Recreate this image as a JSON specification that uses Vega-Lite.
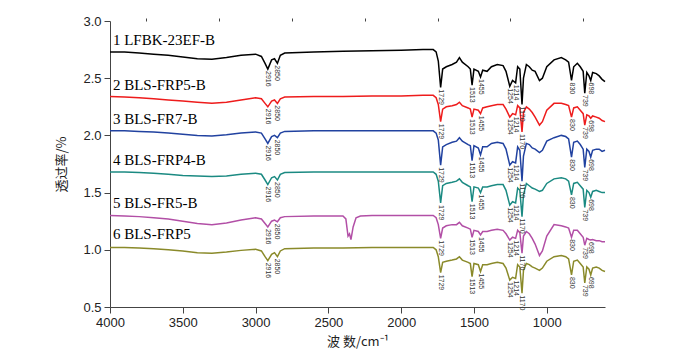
{
"$schema":"https://vega.github.io/schema/vega-lite/v6.json",
"width":495,"height":286,
"autosize":{"type":"none"},
"padding":{"left":110,"top":21,"right":68,"bottom":51},
"config":{"view":{"stroke":null},"axis":{"domainColor":"#444","tickColor":"#444","labelColor":"#222","labelFont":"Liberation Sans","labelFontSize":13,"titleFont":"Noto Sans CJK SC","titleFontSize":13,"titleFontWeight":"normal","titleColor":"#222","grid":false,"labelOverlap":false}},
"resolve":{"axis":{"x":"independent"}},
"datasets":{
"spectra":[
{"s":"1","x":4000,"y":2.73},{"s":"1","x":3900,"y":2.73},{"s":"1","x":3800,"y":2.72},{"s":"1","x":3700,"y":2.71},{"s":"1","x":3600,"y":2.70},{"s":"1","x":3500,"y":2.685},{"s":"1","x":3400,"y":2.67},{"s":"1","x":3300,"y":2.665},{"s":"1","x":3200,"y":2.68},{"s":"1","x":3100,"y":2.70},{"s":"1","x":3000,"y":2.71},{"s":"1","x":2960,"y":2.69},{"s":"1","x":2935,"y":2.63},{"s":"1","x":2916,"y":2.58},{"s":"1","x":2890,"y":2.66},{"s":"1","x":2870,"y":2.67},{"s":"1","x":2850,"y":2.63},{"s":"1","x":2830,"y":2.70},{"s":"1","x":2800,"y":2.72},{"s":"1","x":2600,"y":2.73},{"s":"1","x":2400,"y":2.735},{"s":"1","x":2200,"y":2.74},{"s":"1","x":2000,"y":2.745},{"s":"1","x":1850,"y":2.75},{"s":"1","x":1780,"y":2.75},{"s":"1","x":1760,"y":2.73},{"s":"1","x":1745,"y":2.65},{"s":"1","x":1729,"y":2.42},{"s":"1","x":1715,"y":2.58},{"s":"1","x":1690,"y":2.60},{"s":"1","x":1650,"y":2.62},{"s":"1","x":1620,"y":2.64},{"s":"1","x":1600,"y":2.68},{"s":"1","x":1580,"y":2.64},{"s":"1","x":1540,"y":2.60},{"s":"1","x":1525,"y":2.58},{"s":"1","x":1513,"y":2.44},{"s":"1","x":1500,"y":2.58},{"s":"1","x":1470,"y":2.56},{"s":"1","x":1455,"y":2.51},{"s":"1","x":1440,"y":2.57},{"s":"1","x":1410,"y":2.56},{"s":"1","x":1380,"y":2.60},{"s":"1","x":1340,"y":2.62},{"s":"1","x":1300,"y":2.61},{"s":"1","x":1280,"y":2.56},{"s":"1","x":1254,"y":2.43},{"s":"1","x":1235,"y":2.48},{"s":"1","x":1214,"y":2.46},{"s":"1","x":1200,"y":2.60},{"s":"1","x":1185,"y":2.58},{"s":"1","x":1170,"y":2.27},{"s":"1","x":1160,"y":2.50},{"s":"1","x":1140,"y":2.62},{"s":"1","x":1120,"y":2.60},{"s":"1","x":1100,"y":2.57},{"s":"1","x":1080,"y":2.56},{"s":"1","x":1050,"y":2.48},{"s":"1","x":1030,"y":2.50},{"s":"1","x":1000,"y":2.60},{"s":"1","x":950,"y":2.66},{"s":"1","x":900,"y":2.68},{"s":"1","x":870,"y":2.66},{"s":"1","x":850,"y":2.64},{"s":"1","x":830,"y":2.48},{"s":"1","x":815,"y":2.60},{"s":"1","x":790,"y":2.63},{"s":"1","x":770,"y":2.60},{"s":"1","x":750,"y":2.56},{"s":"1","x":739,"y":2.37},{"s":"1","x":725,"y":2.55},{"s":"1","x":710,"y":2.52},{"s":"1","x":698,"y":2.48},{"s":"1","x":685,"y":2.55},{"s":"1","x":660,"y":2.54},{"s":"1","x":640,"y":2.52},{"s":"1","x":620,"y":2.49},{"s":"1","x":600,"y":2.47},
{"s":"2","x":4000,"y":2.34},{"s":"2","x":3900,"y":2.335},{"s":"2","x":3800,"y":2.33},{"s":"2","x":3700,"y":2.32},{"s":"2","x":3600,"y":2.31},{"s":"2","x":3500,"y":2.30},{"s":"2","x":3400,"y":2.29},{"s":"2","x":3300,"y":2.28},{"s":"2","x":3200,"y":2.29},{"s":"2","x":3100,"y":2.31},{"s":"2","x":3000,"y":2.33},{"s":"2","x":2960,"y":2.32},{"s":"2","x":2935,"y":2.28},{"s":"2","x":2916,"y":2.25},{"s":"2","x":2890,"y":2.30},{"s":"2","x":2870,"y":2.31},{"s":"2","x":2850,"y":2.28},{"s":"2","x":2830,"y":2.32},{"s":"2","x":2800,"y":2.335},{"s":"2","x":2600,"y":2.34},{"s":"2","x":2400,"y":2.34},{"s":"2","x":2200,"y":2.345},{"s":"2","x":2000,"y":2.345},{"s":"2","x":1850,"y":2.35},{"s":"2","x":1780,"y":2.35},{"s":"2","x":1760,"y":2.33},{"s":"2","x":1745,"y":2.27},{"s":"2","x":1729,"y":2.12},{"s":"2","x":1715,"y":2.23},{"s":"2","x":1690,"y":2.25},{"s":"2","x":1650,"y":2.26},{"s":"2","x":1620,"y":2.27},{"s":"2","x":1600,"y":2.29},{"s":"2","x":1580,"y":2.26},{"s":"2","x":1540,"y":2.24},{"s":"2","x":1525,"y":2.23},{"s":"2","x":1513,"y":2.16},{"s":"2","x":1500,"y":2.23},{"s":"2","x":1470,"y":2.22},{"s":"2","x":1455,"y":2.19},{"s":"2","x":1440,"y":2.24},{"s":"2","x":1410,"y":2.25},{"s":"2","x":1380,"y":2.26},{"s":"2","x":1340,"y":2.27},{"s":"2","x":1300,"y":2.27},{"s":"2","x":1280,"y":2.23},{"s":"2","x":1254,"y":2.16},{"s":"2","x":1235,"y":2.19},{"s":"2","x":1214,"y":2.18},{"s":"2","x":1200,"y":2.26},{"s":"2","x":1185,"y":2.24},{"s":"2","x":1170,"y":2.03},{"s":"2","x":1160,"y":2.20},{"s":"2","x":1140,"y":2.25},{"s":"2","x":1120,"y":2.23},{"s":"2","x":1100,"y":2.20},{"s":"2","x":1080,"y":2.16},{"s":"2","x":1050,"y":2.09},{"s":"2","x":1030,"y":2.12},{"s":"2","x":1000,"y":2.22},{"s":"2","x":950,"y":2.28},{"s":"2","x":900,"y":2.28},{"s":"2","x":870,"y":2.27},{"s":"2","x":850,"y":2.26},{"s":"2","x":830,"y":2.16},{"s":"2","x":815,"y":2.24},{"s":"2","x":790,"y":2.25},{"s":"2","x":770,"y":2.22},{"s":"2","x":750,"y":2.19},{"s":"2","x":739,"y":2.09},{"s":"2","x":725,"y":2.18},{"s":"2","x":710,"y":2.17},{"s":"2","x":698,"y":2.15},{"s":"2","x":685,"y":2.17},{"s":"2","x":660,"y":2.16},{"s":"2","x":640,"y":2.15},{"s":"2","x":620,"y":2.13},{"s":"2","x":600,"y":2.12},
{"s":"3","x":4000,"y":2.04},{"s":"3","x":3900,"y":2.04},{"s":"3","x":3800,"y":2.035},{"s":"3","x":3700,"y":2.03},{"s":"3","x":3600,"y":2.02},{"s":"3","x":3500,"y":2.01},{"s":"3","x":3400,"y":2.00},{"s":"3","x":3300,"y":1.995},{"s":"3","x":3200,"y":2.005},{"s":"3","x":3100,"y":2.02},{"s":"3","x":3000,"y":2.03},{"s":"3","x":2960,"y":2.02},{"s":"3","x":2935,"y":1.97},{"s":"3","x":2916,"y":1.93},{"s":"3","x":2890,"y":1.99},{"s":"3","x":2870,"y":2.00},{"s":"3","x":2850,"y":1.98},{"s":"3","x":2830,"y":2.02},{"s":"3","x":2800,"y":2.035},{"s":"3","x":2600,"y":2.04},{"s":"3","x":2400,"y":2.04},{"s":"3","x":2200,"y":2.04},{"s":"3","x":2000,"y":2.04},{"s":"3","x":1850,"y":2.04},{"s":"3","x":1780,"y":2.04},{"s":"3","x":1760,"y":2.02},{"s":"3","x":1745,"y":1.96},{"s":"3","x":1729,"y":1.74},{"s":"3","x":1715,"y":1.90},{"s":"3","x":1690,"y":1.92},{"s":"3","x":1650,"y":1.94},{"s":"3","x":1620,"y":1.95},{"s":"3","x":1600,"y":1.98},{"s":"3","x":1580,"y":1.95},{"s":"3","x":1540,"y":1.92},{"s":"3","x":1525,"y":1.91},{"s":"3","x":1513,"y":1.78},{"s":"3","x":1500,"y":1.91},{"s":"3","x":1470,"y":1.89},{"s":"3","x":1455,"y":1.83},{"s":"3","x":1440,"y":1.90},{"s":"3","x":1410,"y":1.90},{"s":"3","x":1380,"y":1.93},{"s":"3","x":1340,"y":1.94},{"s":"3","x":1300,"y":1.93},{"s":"3","x":1280,"y":1.88},{"s":"3","x":1254,"y":1.74},{"s":"3","x":1235,"y":1.77},{"s":"3","x":1214,"y":1.76},{"s":"3","x":1200,"y":1.90},{"s":"3","x":1185,"y":1.87},{"s":"3","x":1170,"y":1.60},{"s":"3","x":1160,"y":1.82},{"s":"3","x":1140,"y":1.93},{"s":"3","x":1120,"y":1.92},{"s":"3","x":1100,"y":1.89},{"s":"3","x":1080,"y":1.88},{"s":"3","x":1050,"y":1.85},{"s":"3","x":1030,"y":1.87},{"s":"3","x":1000,"y":1.95},{"s":"3","x":950,"y":1.98},{"s":"3","x":900,"y":2.00},{"s":"3","x":870,"y":1.99},{"s":"3","x":850,"y":1.97},{"s":"3","x":830,"y":1.81},{"s":"3","x":815,"y":1.94},{"s":"3","x":790,"y":1.95},{"s":"3","x":770,"y":1.92},{"s":"3","x":750,"y":1.88},{"s":"3","x":739,"y":1.72},{"s":"3","x":725,"y":1.88},{"s":"3","x":710,"y":1.86},{"s":"3","x":698,"y":1.81},{"s":"3","x":685,"y":1.87},{"s":"3","x":660,"y":1.88},{"s":"3","x":640,"y":1.88},{"s":"3","x":620,"y":1.86},{"s":"3","x":600,"y":1.87},
{"s":"4","x":4000,"y":1.68},{"s":"4","x":3900,"y":1.68},{"s":"4","x":3800,"y":1.675},{"s":"4","x":3700,"y":1.67},{"s":"4","x":3600,"y":1.66},{"s":"4","x":3500,"y":1.65},{"s":"4","x":3400,"y":1.645},{"s":"4","x":3300,"y":1.64},{"s":"4","x":3200,"y":1.645},{"s":"4","x":3100,"y":1.66},{"s":"4","x":3000,"y":1.67},{"s":"4","x":2960,"y":1.66},{"s":"4","x":2935,"y":1.61},{"s":"4","x":2916,"y":1.57},{"s":"4","x":2890,"y":1.63},{"s":"4","x":2870,"y":1.64},{"s":"4","x":2850,"y":1.61},{"s":"4","x":2830,"y":1.66},{"s":"4","x":2800,"y":1.675},{"s":"4","x":2600,"y":1.68},{"s":"4","x":2400,"y":1.68},{"s":"4","x":2200,"y":1.68},{"s":"4","x":2000,"y":1.68},{"s":"4","x":1850,"y":1.68},{"s":"4","x":1780,"y":1.68},{"s":"4","x":1760,"y":1.66},{"s":"4","x":1745,"y":1.60},{"s":"4","x":1729,"y":1.41},{"s":"4","x":1715,"y":1.56},{"s":"4","x":1690,"y":1.58},{"s":"4","x":1650,"y":1.59},{"s":"4","x":1620,"y":1.60},{"s":"4","x":1600,"y":1.62},{"s":"4","x":1580,"y":1.59},{"s":"4","x":1540,"y":1.56},{"s":"4","x":1525,"y":1.55},{"s":"4","x":1513,"y":1.42},{"s":"4","x":1500,"y":1.55},{"s":"4","x":1470,"y":1.54},{"s":"4","x":1455,"y":1.50},{"s":"4","x":1440,"y":1.55},{"s":"4","x":1410,"y":1.55},{"s":"4","x":1380,"y":1.56},{"s":"4","x":1340,"y":1.57},{"s":"4","x":1300,"y":1.57},{"s":"4","x":1280,"y":1.52},{"s":"4","x":1254,"y":1.39},{"s":"4","x":1235,"y":1.42},{"s":"4","x":1214,"y":1.41},{"s":"4","x":1200,"y":1.54},{"s":"4","x":1185,"y":1.52},{"s":"4","x":1170,"y":1.29},{"s":"4","x":1160,"y":1.48},{"s":"4","x":1140,"y":1.58},{"s":"4","x":1120,"y":1.56},{"s":"4","x":1100,"y":1.54},{"s":"4","x":1080,"y":1.53},{"s":"4","x":1050,"y":1.51},{"s":"4","x":1030,"y":1.52},{"s":"4","x":1000,"y":1.58},{"s":"4","x":950,"y":1.62},{"s":"4","x":900,"y":1.63},{"s":"4","x":870,"y":1.62},{"s":"4","x":850,"y":1.60},{"s":"4","x":830,"y":1.48},{"s":"4","x":815,"y":1.58},{"s":"4","x":790,"y":1.59},{"s":"4","x":770,"y":1.56},{"s":"4","x":750,"y":1.53},{"s":"4","x":739,"y":1.37},{"s":"4","x":725,"y":1.52},{"s":"4","x":710,"y":1.50},{"s":"4","x":698,"y":1.46},{"s":"4","x":685,"y":1.51},{"s":"4","x":660,"y":1.52},{"s":"4","x":640,"y":1.51},{"s":"4","x":620,"y":1.50},{"s":"4","x":600,"y":1.50},
{"s":"5","x":4000,"y":1.30},{"s":"5","x":3900,"y":1.295},{"s":"5","x":3800,"y":1.29},{"s":"5","x":3700,"y":1.28},{"s":"5","x":3600,"y":1.27},{"s":"5","x":3500,"y":1.25},{"s":"5","x":3400,"y":1.23},{"s":"5","x":3300,"y":1.22},{"s":"5","x":3200,"y":1.235},{"s":"5","x":3100,"y":1.26},{"s":"5","x":3000,"y":1.28},{"s":"5","x":2960,"y":1.27},{"s":"5","x":2935,"y":1.23},{"s":"5","x":2916,"y":1.20},{"s":"5","x":2890,"y":1.25},{"s":"5","x":2870,"y":1.26},{"s":"5","x":2850,"y":1.245},{"s":"5","x":2830,"y":1.28},{"s":"5","x":2800,"y":1.29},{"s":"5","x":2600,"y":1.295},{"s":"5","x":2400,"y":1.295},{"s":"5","x":2380,"y":1.27},{"s":"5","x":2365,"y":1.12},{"s":"5","x":2355,"y":1.14},{"s":"5","x":2345,"y":1.09},{"s":"5","x":2330,"y":1.20},{"s":"5","x":2310,"y":1.28},{"s":"5","x":2280,"y":1.295},{"s":"5","x":2200,"y":1.30},{"s":"5","x":2000,"y":1.30},{"s":"5","x":1850,"y":1.30},{"s":"5","x":1780,"y":1.30},{"s":"5","x":1760,"y":1.28},{"s":"5","x":1745,"y":1.22},{"s":"5","x":1729,"y":1.10},{"s":"5","x":1715,"y":1.19},{"s":"5","x":1690,"y":1.21},{"s":"5","x":1650,"y":1.22},{"s":"5","x":1620,"y":1.22},{"s":"5","x":1600,"y":1.24},{"s":"5","x":1580,"y":1.21},{"s":"5","x":1540,"y":1.19},{"s":"5","x":1525,"y":1.18},{"s":"5","x":1513,"y":1.11},{"s":"5","x":1500,"y":1.17},{"s":"5","x":1470,"y":1.16},{"s":"5","x":1455,"y":1.13},{"s":"5","x":1440,"y":1.16},{"s":"5","x":1410,"y":1.16},{"s":"5","x":1380,"y":1.17},{"s":"5","x":1340,"y":1.18},{"s":"5","x":1300,"y":1.17},{"s":"5","x":1280,"y":1.14},{"s":"5","x":1254,"y":1.085},{"s":"5","x":1235,"y":1.11},{"s":"5","x":1214,"y":1.10},{"s":"5","x":1200,"y":1.17},{"s":"5","x":1185,"y":1.15},{"s":"5","x":1170,"y":0.97},{"s":"5","x":1160,"y":1.12},{"s":"5","x":1140,"y":1.16},{"s":"5","x":1120,"y":1.14},{"s":"5","x":1100,"y":1.10},{"s":"5","x":1080,"y":1.05},{"s":"5","x":1050,"y":0.95},{"s":"5","x":1030,"y":0.99},{"s":"5","x":1000,"y":1.12},{"s":"5","x":950,"y":1.22},{"s":"5","x":900,"y":1.21},{"s":"5","x":870,"y":1.20},{"s":"5","x":850,"y":1.19},{"s":"5","x":830,"y":1.11},{"s":"5","x":815,"y":1.17},{"s":"5","x":790,"y":1.17},{"s":"5","x":770,"y":1.14},{"s":"5","x":750,"y":1.11},{"s":"5","x":739,"y":1.04},{"s":"5","x":725,"y":1.10},{"s":"5","x":710,"y":1.09},{"s":"5","x":698,"y":1.085},{"s":"5","x":685,"y":1.09},{"s":"5","x":660,"y":1.08},{"s":"5","x":640,"y":1.08},{"s":"5","x":620,"y":1.07},{"s":"5","x":600,"y":1.07},
{"s":"6","x":4000,"y":1.02},{"s":"6","x":3900,"y":1.02},{"s":"6","x":3800,"y":1.015},{"s":"6","x":3700,"y":1.01},{"s":"6","x":3600,"y":1.00},{"s":"6","x":3500,"y":0.99},{"s":"6","x":3400,"y":0.975},{"s":"6","x":3300,"y":0.97},{"s":"6","x":3200,"y":0.98},{"s":"6","x":3100,"y":0.995},{"s":"6","x":3000,"y":1.005},{"s":"6","x":2960,"y":0.99},{"s":"6","x":2935,"y":0.94},{"s":"6","x":2916,"y":0.905},{"s":"6","x":2890,"y":0.96},{"s":"6","x":2870,"y":0.975},{"s":"6","x":2850,"y":0.94},{"s":"6","x":2830,"y":0.99},{"s":"6","x":2800,"y":1.01},{"s":"6","x":2600,"y":1.015},{"s":"6","x":2400,"y":1.015},{"s":"6","x":2200,"y":1.02},{"s":"6","x":2000,"y":1.02},{"s":"6","x":1850,"y":1.02},{"s":"6","x":1780,"y":1.02},{"s":"6","x":1760,"y":1.00},{"s":"6","x":1745,"y":0.94},{"s":"6","x":1729,"y":0.80},{"s":"6","x":1715,"y":0.89},{"s":"6","x":1690,"y":0.90},{"s":"6","x":1650,"y":0.91},{"s":"6","x":1620,"y":0.92},{"s":"6","x":1600,"y":0.94},{"s":"6","x":1580,"y":0.91},{"s":"6","x":1540,"y":0.89},{"s":"6","x":1525,"y":0.88},{"s":"6","x":1513,"y":0.765},{"s":"6","x":1500,"y":0.88},{"s":"6","x":1470,"y":0.87},{"s":"6","x":1455,"y":0.81},{"s":"6","x":1440,"y":0.87},{"s":"6","x":1410,"y":0.87},{"s":"6","x":1380,"y":0.88},{"s":"6","x":1340,"y":0.89},{"s":"6","x":1300,"y":0.88},{"s":"6","x":1280,"y":0.84},{"s":"6","x":1254,"y":0.735},{"s":"6","x":1235,"y":0.76},{"s":"6","x":1214,"y":0.75},{"s":"6","x":1200,"y":0.87},{"s":"6","x":1185,"y":0.85},{"s":"6","x":1170,"y":0.62},{"s":"6","x":1160,"y":0.82},{"s":"6","x":1140,"y":0.88},{"s":"6","x":1120,"y":0.87},{"s":"6","x":1100,"y":0.85},{"s":"6","x":1080,"y":0.84},{"s":"6","x":1050,"y":0.82},{"s":"6","x":1030,"y":0.84},{"s":"6","x":1000,"y":0.90},{"s":"6","x":950,"y":0.94},{"s":"6","x":900,"y":0.95},{"s":"6","x":870,"y":0.94},{"s":"6","x":850,"y":0.92},{"s":"6","x":830,"y":0.78},{"s":"6","x":815,"y":0.90},{"s":"6","x":790,"y":0.91},{"s":"6","x":770,"y":0.88},{"s":"6","x":750,"y":0.85},{"s":"6","x":739,"y":0.71},{"s":"6","x":725,"y":0.85},{"s":"6","x":710,"y":0.83},{"s":"6","x":698,"y":0.78},{"s":"6","x":685,"y":0.84},{"s":"6","x":660,"y":0.85},{"s":"6","x":640,"y":0.84},{"s":"6","x":620,"y":0.82},{"s":"6","x":600,"y":0.81}
],
"names":[
{"x":3980,"y":2.79,"t":"1 LFBK-23EF-B"},
{"x":3980,"y":2.397,"t":"2 BLS-FRP5-B"},
{"x":3980,"y":2.104,"t":"3 BLS-FR7-B"},
{"x":3980,"y":1.741,"t":"4 BLS-FRP4-B"},
{"x":3980,"y":1.368,"t":"5 BLS-FR5-B"},
{"x":3980,"y":1.092,"t":"6 BLS-FRP5"}
],
"peaks":[
{"x":2916,"y":2.58,"t":"2916"},{"x":2850,"y":2.63,"t":"2850"},{"x":1729,"y":2.42,"t":"1729"},{"x":1513,"y":2.44,"t":"1513"},{"x":1455,"y":2.51,"t":"1455"},{"x":1254,"y":2.43,"t":"1254"},{"x":1214,"y":2.46,"t":"1214"},{"x":1170,"y":2.27,"t":"1170"},{"x":830,"y":2.48,"t":"830"},{"x":739,"y":2.37,"t":"739"},{"x":698,"y":2.48,"t":"698"},
{"x":2916,"y":2.25,"t":"2916"},{"x":2850,"y":2.28,"t":"2850"},{"x":1729,"y":2.12,"t":"1729"},{"x":1513,"y":2.16,"t":"1513"},{"x":1455,"y":2.19,"t":"1455"},{"x":1254,"y":2.16,"t":"1254"},{"x":1214,"y":2.18,"t":"1214"},{"x":1170,"y":2.03,"t":"1170"},{"x":830,"y":2.16,"t":"830"},{"x":739,"y":2.09,"t":"739"},{"x":698,"y":2.15,"t":"698"},
{"x":2916,"y":1.93,"t":"2916"},{"x":2850,"y":1.98,"t":"2850"},{"x":1729,"y":1.74,"t":"1729"},{"x":1513,"y":1.78,"t":"1513"},{"x":1455,"y":1.83,"t":"1455"},{"x":1254,"y":1.74,"t":"1254"},{"x":1214,"y":1.76,"t":"1214"},{"x":1170,"y":1.60,"t":"1170"},{"x":830,"y":1.81,"t":"830"},{"x":739,"y":1.72,"t":"739"},{"x":698,"y":1.81,"t":"698"},
{"x":2916,"y":1.57,"t":"2916"},{"x":2850,"y":1.61,"t":"2850"},{"x":1729,"y":1.41,"t":"1729"},{"x":1513,"y":1.42,"t":"1513"},{"x":1455,"y":1.50,"t":"1455"},{"x":1254,"y":1.39,"t":"1254"},{"x":1214,"y":1.41,"t":"1214"},{"x":1170,"y":1.29,"t":"1170"},{"x":830,"y":1.48,"t":"830"},{"x":739,"y":1.37,"t":"739"},{"x":698,"y":1.46,"t":"698"},
{"x":2916,"y":1.20,"t":"2916"},{"x":2850,"y":1.245,"t":"2850"},{"x":1729,"y":1.10,"t":"1729"},{"x":1513,"y":1.11,"t":"1513"},{"x":1455,"y":1.13,"t":"1455"},{"x":1254,"y":1.085,"t":"1254"},{"x":1214,"y":1.10,"t":"1214"},{"x":1170,"y":0.97,"t":"1170"},{"x":830,"y":1.11,"t":"830"},{"x":739,"y":1.04,"t":"739"},{"x":698,"y":1.085,"t":"698"},
{"x":2916,"y":0.905,"t":"2916"},{"x":2850,"y":0.94,"t":"2850"},{"x":1729,"y":0.80,"t":"1729"},{"x":1513,"y":0.765,"t":"1513"},{"x":1455,"y":0.81,"t":"1455"},{"x":1254,"y":0.735,"t":"1254"},{"x":1214,"y":0.75,"t":"1214"},{"x":1170,"y":0.62,"t":"1170"},{"x":830,"y":0.78,"t":"830"},{"x":739,"y":0.71,"t":"739"},{"x":698,"y":0.78,"t":"698"}
]
},
"layer":[
{"data":{"name":"spectra"},
 "mark":{"type":"line","strokeWidth":1.5},
 "encoding":{
  "x":{"field":"x","type":"quantitative","scale":{"domain":[600,4000],"reverse":true,"nice":false,"zero":false},
   "axis":{"title":"波 数/cm⁻¹","titlePadding":6,"values":[4000,3500,3000,2500,2000,1500,1000],"format":"d","labelFlush":false,"labelPadding":3,"tickSize":6}},
  "y":{"field":"y","type":"quantitative","scale":{"domain":[0.5,3.0],"nice":false,"zero":false},
   "axis":{"title":"透过率/%","titlePadding":14,"values":[0.5,0.75,1.0,1.25,1.5,1.75,2.0,2.25,2.5,2.75,3.0],
    "labelExpr":"datum.value % 0.5 === 0 ? format(datum.value, '.1f') : ''","labelPadding":3,
    "tickSize":{"condition":{"test":"datum.value % 0.5 !== 0","value":3},"value":6}}},
  "color":{"field":"s","type":"nominal","scale":{"domain":["1","2","3","4","5","6"],"range":["#000000","#ee1c1c","#2142a0","#1b8a82","#b24fa6","#8a8a2a"]},"legend":null}
 }},
{"data":{"name":"names"},
 "mark":{"type":"text","align":"left","baseline":"alphabetic","font":"Liberation Serif","fontSize":15,"color":"#000"},
 "encoding":{"x":{"field":"x","type":"quantitative","axis":{"values":[3750,3250,2750,2250,1750,1250,750],"labels":false,"tickSize":3,"domain":false,"title":null}},"y":{"field":"y","type":"quantitative"},"text":{"field":"t"}}},
{"data":{"name":"peaks"},
 "mark":{"type":"text","angle":90,"align":"left","baseline":"middle","dx":2,"font":"Liberation Sans","fontSize":7,"color":"#333"},
 "encoding":{"x":{"field":"x","type":"quantitative","axis":null},"y":{"field":"y","type":"quantitative"},"text":{"field":"t"}}}
]
}
